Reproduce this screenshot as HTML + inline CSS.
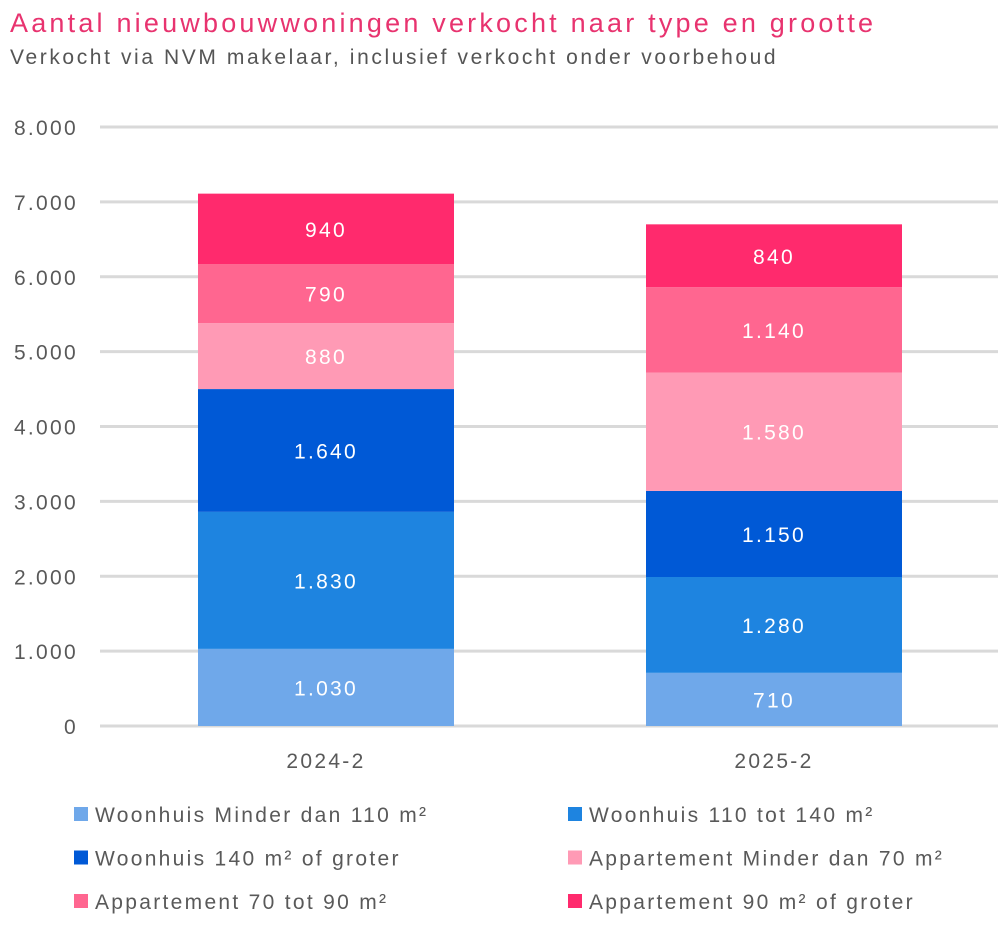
<!DOCTYPE html>
<html><head><meta charset="utf-8"><style>
body{margin:0;background:#fff;font-family:"Liberation Sans",sans-serif}
svg{display:block}
svg text{letter-spacing:2.3px}
</style></head><body>
<svg id="c" width="1008" height="940">
<text x="10" y="32" font-size="27" fill="#e8336f" style="letter-spacing:3.2px">Aantal nieuwbouwwoningen verkocht naar type en grootte</text>
<text x="10" y="64" font-size="21" fill="#555" style="letter-spacing:2.6px">Verkocht via NVM makelaar, inclusief verkocht onder voorbehoud</text>
<g id="grid"></g><g id="bars"></g><g id="legend"></g>
</svg>
<script>
const categories=["2024-2","2025-2"];
const seriesNames=["Woonhuis Minder dan 110 m²","Woonhuis 110 tot 140 m²","Woonhuis 140 m² of groter","Appartement Minder dan 70 m²","Appartement 70 tot 90 m²","Appartement 90 m² of groter"];
const s1=[1030,710];
const s2=[1830,1280];
const s3=[1640,1150];
const s4=[880,1580];
const s5=[790,1140];
const s6=[940,840];
const yTicks=[0,1000,2000,3000,4000,5000,6000,7000,8000];
const colors=["#6fa8ea","#1e84e0","#0059d6","#ff9ab5","#ff6690","#ff2a6d"];
const series=[s1,s2,s3,s4,s5,s6];
const NS="http://www.w3.org/2000/svg";
const y0=726,y1=127,yMax=8000;
const y=v=>y0-(y0-y1)*v/yMax;
const xC=i=>326+i*448, bw=256;
const fmt=v=>v.toLocaleString('de-DE');
function mk(t,a,p){const e=document.createElementNS(NS,t);for(const k in a)e.setAttribute(k,a[k]);p.appendChild(e);return e;}
const g=document.getElementById('grid');
yTicks.forEach(t=>{
 const l=mk('line',{x1:100,x2:998,y1:y(t),y2:y(t),stroke:'#d9d9d9','stroke-width':3},g);
 
 
 const tx=mk('text',{x:78,y:y(t)+8,'text-anchor':'end','font-size':21,fill:'#595959'},g);
 tx.textContent=fmt(t);
 
 
});
const b=document.getElementById('bars');
categories.forEach((c,i)=>{
 let acc=0;
 series.forEach((s,j)=>{
  const v=s[i];
  const r=mk('rect',{x:xC(i)-bw/2,y:y(acc+v),width:bw,height:y(acc)-y(acc+v),fill:colors[j]},b);
  
  
  const tx=mk('text',{x:xC(i),y:(y(acc)+y(acc+v))/2+8,'text-anchor':'middle','font-size':21,fill:'#fff'},b);
  tx.textContent=fmt(v);
  
  
  acc+=v;
 });
 const cl=mk('text',{x:xC(i),y:768,'text-anchor':'middle','font-size':21,fill:'#595959'},b);
 cl.textContent=c;
 
 
});
const lg=document.getElementById('legend');
seriesNames.forEach((n,j)=>{
 const lx=j%2?568:74, ly=814+Math.floor(j/2)*43.5;
 const r=mk('rect',{x:lx,y:ly-7,width:14,height:14,fill:colors[j]},lg);
 
 
 const t=mk('text',{x:lx+21,y:ly+8,'font-size':21,fill:'#595959'},lg);
 t.textContent=n;
 
 
});
</script>
</body></html>
